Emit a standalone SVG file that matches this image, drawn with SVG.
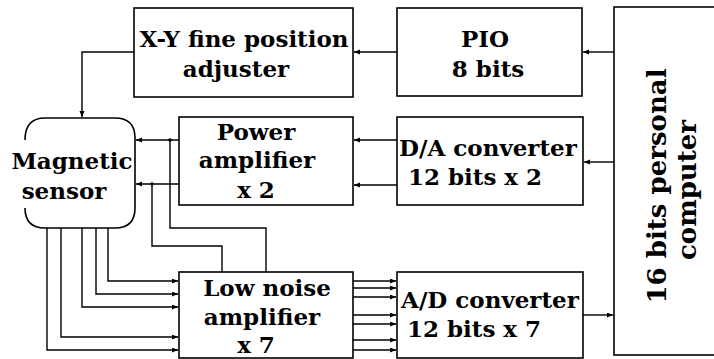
<svg xmlns="http://www.w3.org/2000/svg" width="714" height="359" viewBox="0 0 714 359">
<style>
.box{fill:#fff;stroke:#000;stroke-width:1.6}
text{font-family:'DejaVu Serif','Liberation Serif',serif;font-weight:700;font-size:23px;fill:#000;text-anchor:middle}
.pc{font-size:26px}
.c{fill:none;stroke:#000;stroke-width:1.4}
.a{marker-end:url(#ah)}
</style>
<defs>
<marker id="ah" markerUnits="userSpaceOnUse" markerWidth="7" markerHeight="6" refX="6" refY="2.5" orient="auto">
<path d="M0,0 L6,2.5 L0,5 z" fill="#000"/>
</marker>
</defs>
<rect width="714" height="359" fill="#fff"/>
<g id="connectors">
<path class="c a" d="M614,52 H583"/>
<path class="c a" d="M397,52 H354"/>
<path class="c a" d="M134,52 H82 V117"/>
<path class="c a" d="M614,162 H584"/>
<path class="c a" d="M397,140 H354"/>
<path class="c a" d="M397,185 H354"/>
<path class="c a" d="M179,140 H136"/>
<path class="c a" d="M179,184 H136"/>
<path class="c" d="M170,140 V228 H266 V272"/>
<path class="c" d="M152,184 V246 H222 V272"/>
<circle cx="170" cy="140" r="1.8"/>
<circle cx="152" cy="184" r="1.8"/>
<path class="c a" d="M108,228 V281 H178"/>
<path class="c a" d="M96,228 V294 H178"/>
<path class="c a" d="M82,228 V307 H178"/>
<path class="c a" d="M61,228 V337 H178"/>
<path class="c a" d="M47,228 V350 H178"/>
<path class="c a" d="M353,281 H396"/>
<path class="c a" d="M353,288 H396"/>
<path class="c a" d="M353,297 H396"/>
<path class="c a" d="M353,315 H396"/>
<path class="c a" d="M353,324 H396"/>
<path class="c a" d="M353,340 H396"/>
<path class="c a" d="M353,350 H396"/>
<path class="c a" d="M583,315 H613"/>
</g>
<g id="xy">
<rect class="box" x="134" y="8" width="219" height="89"/>
<text x="244" y="47">X-Y fine position</text>
<text x="236" y="77">adjuster</text>
</g>
<g id="pio">
<rect class="box" x="397" y="8" width="185" height="88"/>
<text x="485" y="47">PIO</text>
<text x="488" y="77">8 bits</text>
</g>
<g id="pc">
<rect class="box" x="614" y="7" width="110" height="348"/>
<text class="pc" transform="translate(666,186) rotate(-90)">16 bits personal</text>
<text class="pc" transform="translate(696,190) rotate(-90)">computer</text>
</g>
<g id="power">
<rect class="box" x="179" y="117" width="174" height="88"/>
<text x="256" y="140">Power</text>
<text x="257" y="168">amplifier</text>
<text x="256" y="198">x 2</text>
</g>
<g id="da">
<rect class="box" x="397" y="117" width="186" height="88"/>
<text x="488" y="156">D/A converter</text>
<text x="475" y="185">12 bits x 2</text>
</g>
<g id="sensor">
<path class="c" style="stroke-width:1.6" d="M25,140 Q25,118 45,118 H115 Q135,118 135,138 V208 Q135,228 115,228 H45 Q25,228 25,208"/>
<text x="72" y="169">Magnetic</text>
<text x="64" y="199">sensor</text>
</g>
<g id="lna">
<rect class="box" x="179" y="272" width="174" height="86"/>
<text x="267" y="296">Low noise</text>
<text x="262" y="325">amplifier</text>
<text x="256" y="353">x 7</text>
</g>
<g id="ad">
<rect class="box" x="397" y="272" width="186" height="86"/>
<text x="490" y="308">A/D converter</text>
<text x="474" y="337">12 bits x 7</text>
</g>
</svg>
